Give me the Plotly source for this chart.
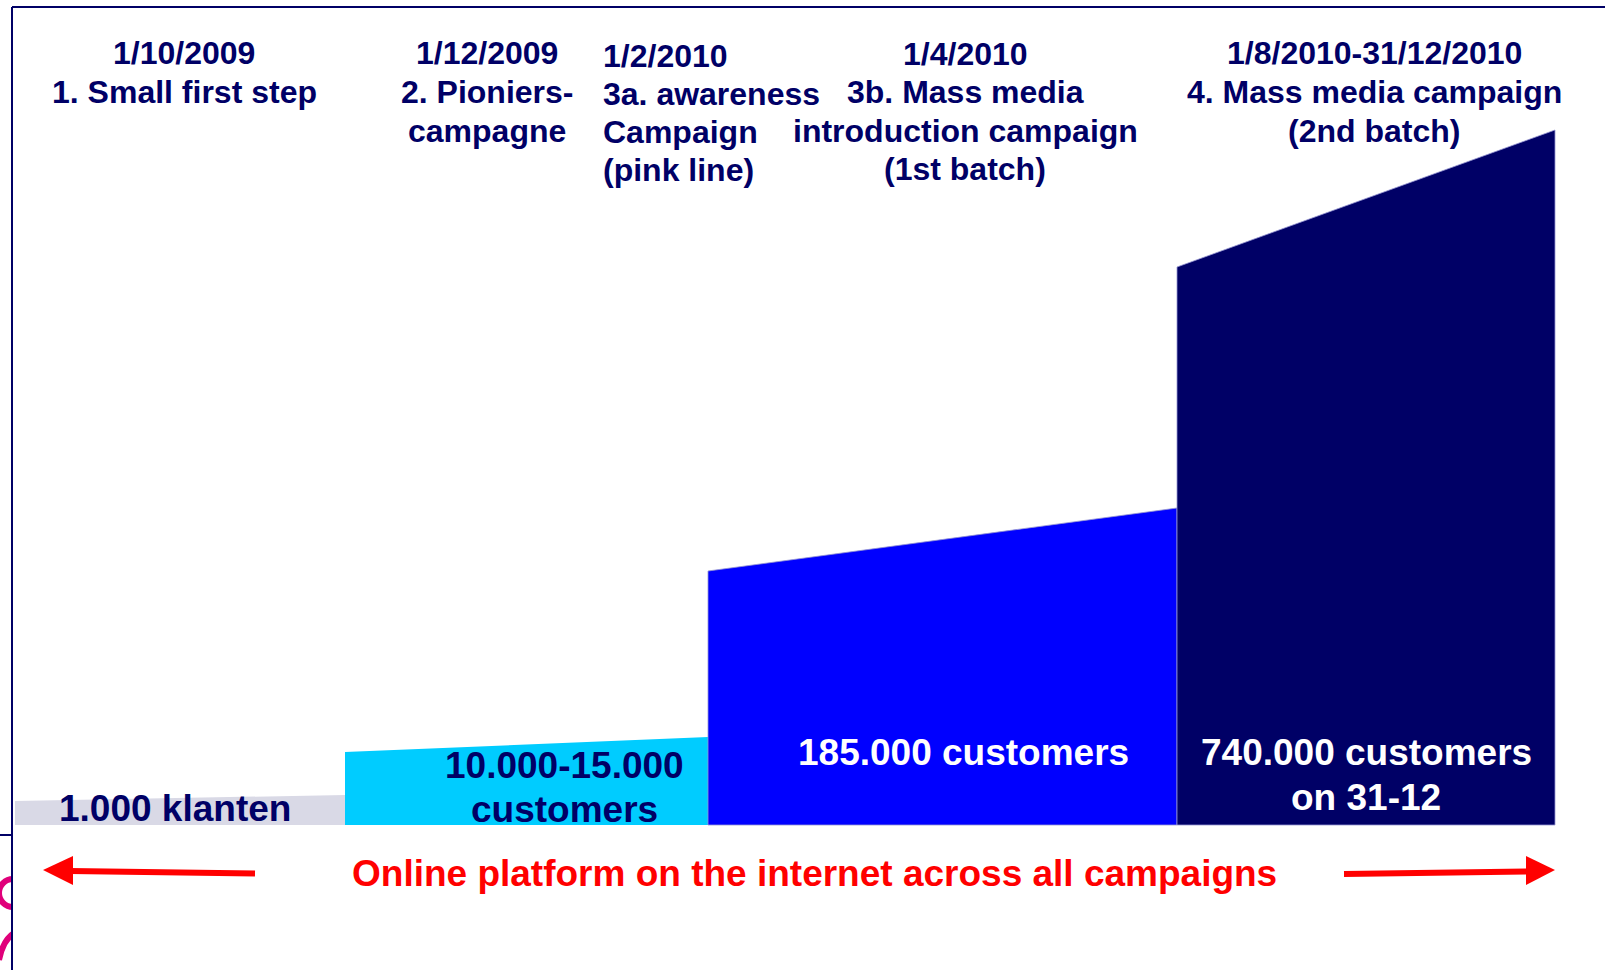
import plotly.graph_objects as go

# ---------------- data ----------------
# horizontal extent of each phase (slide units, left->right)
phase_names = ["1. Small first step", "2. Pioniers-campagne",
               "3b. Mass media (1st batch)", "4. Mass media (2nd batch)"]
phase_start = [15, 345, 708, 1177]
phase_end = [345, 708, 1177, 1555]
# relative customer "level" (illustrative height) at start / end of each phase
level_start = [24, 73, 254, 558]
level_end = [30, 88, 317, 695]
phase_colors = ["#d9d9e6", "#00ccff", "#0000ff", "#000066"]

# header texts (one list per column)
header_1 = ["1/10/2009", "1. Small first step"]
header_2 = ["1/12/2009", "2. Pioniers-", "campagne"]
header_3a = ["1/2/2010", "3a. awareness", "Campaign", "(pink line)"]
header_3b = ["1/4/2010", "3b. Mass media", "introduction campaign", "(1st batch)"]
header_4 = ["1/8/2010-31/12/2010", "4. Mass media campaign", "(2nd batch)"]

# customer labels
label_1 = ["1.000 klanten"]
label_2 = ["10.000-15.000", "customers"]
label_3 = ["185.000 customers"]
label_4 = ["740.000 customers", "on 31-12"]

footer_text = "Online platform on the internet across all campaigns"

# ---------------- layout helpers ----------------
W, H = 1605, 970
BASE = 825  # pixel row of the baseline


def yv(py):
    """pixel row -> axis value"""
    return BASE - py


NAVY = "#000066"
FONT = "Liberation Sans, Arial, sans-serif"

fig = go.Figure()

for i in range(len(phase_start)):
    xs = [phase_start[i], phase_start[i], phase_end[i], phase_end[i], phase_start[i]]
    ys = [0, level_start[i], level_end[i], 0, 0]
    fig.add_trace(go.Scatter(
        x=xs, y=ys, mode="lines", fill="toself",
        fillcolor=phase_colors[i],
        line=dict(width=1 if i >= 2 else 0,
                  color="rgba(150,150,210,0.8)" if i >= 2 else phase_colors[i]),
        name=phase_names[i], hoverinfo="name", showlegend=False))

annotations = []


def add_lines(lines, x, rows, size, color, anchor="center"):
    for t, r in zip(lines, rows):
        annotations.append(dict(
            x=x, y=yv(r), xref="x", yref="y", text="<b>" + t + "</b>",
            showarrow=False, xanchor=anchor, yanchor="middle",
            font=dict(family=FONT, size=size, color=color)))


add_lines(header_1, 184, [53, 92], 32, NAVY)
add_lines(header_2, 487, [53, 92, 131], 32, NAVY)
add_lines(header_3a, 601, [56, 94, 132, 170], 32, NAVY, anchor="left")
add_lines(header_3b, 965, [54, 92, 131, 169], 32, NAVY)
add_lines(header_4, 1374, [53, 92, 131], 32, NAVY)

add_lines(label_1, 175, [808], 37, NAVY)
add_lines(label_2, 564, [765, 809], 37, NAVY)
add_lines(label_3, 963, [752], 37, "white")
add_lines(label_4, 1366, [752, 797], 37, "white")

add_lines([footer_text], 814, [873], 37, "#ff0000")

shapes = []
# slide frame
shapes.append(dict(type="line", xref="x", yref="y", x0=12, x1=W + 5,
                   y0=yv(7), y1=yv(7), line=dict(color=NAVY, width=2)))
# pink logo fragment at the far left
shapes.append(dict(type="circle", xref="x", yref="y", x0=-1, x1=27,
                   y0=yv(907), y1=yv(879), line=dict(color="#e0007a", width=6)))
shapes.append(dict(type="path", xref="x", yref="y",
                   path=f"M 14,{yv(933)} Q 3,{yv(940)} -1,{yv(960)}",
                   line=dict(color="#e0007a", width=6)))
shapes.append(dict(type="rect", xref="x", yref="y", x0=13, x1=34,
                   y0=yv(965), y1=yv(870), fillcolor="white", line=dict(width=0)))
shapes.append(dict(type="line", xref="x", yref="y", x0=12, x1=12,
                   y0=yv(7), y1=yv(H + 5), line=dict(color=NAVY, width=2)))
shapes.append(dict(type="line", xref="x", yref="y", x0=-5, x1=12,
                   y0=yv(835), y1=yv(835), line=dict(color=NAVY, width=2)))

# red arrows
RED = "#ff0000"
shapes.append(dict(type="line", xref="x", yref="y", x0=255, x1=70,
                   y0=yv(873.5), y1=yv(871), line=dict(color=RED, width=6)))
shapes.append(dict(type="path", xref="x", yref="y",
                   path=f"M 43,{yv(870)} L 73,{yv(856)} L 73,{yv(885)} Z",
                   fillcolor=RED, line=dict(color=RED, width=0)))
shapes.append(dict(type="line", xref="x", yref="y", x0=1344, x1=1530,
                   y0=yv(874), y1=yv(871.5), line=dict(color=RED, width=6)))
shapes.append(dict(type="path", xref="x", yref="y",
                   path=f"M 1555,{yv(870)} L 1526,{yv(856)} L 1526,{yv(885)} Z",
                   fillcolor=RED, line=dict(color=RED, width=0)))

fig.update_layout(
    width=W, height=H,
    margin=dict(l=0, r=0, t=0, b=0, pad=0),
    paper_bgcolor="white", plot_bgcolor="white",
    xaxis=dict(range=[0, W], visible=False, fixedrange=True),
    yaxis=dict(range=[yv(H), yv(0)], visible=False, fixedrange=True),
    annotations=annotations, shapes=shapes, showlegend=False,
)

fig.write_html("out.html", config={"displayModeBar": False},
               post_script="document.body.style.margin='0';document.body.style.overflow='hidden';")
